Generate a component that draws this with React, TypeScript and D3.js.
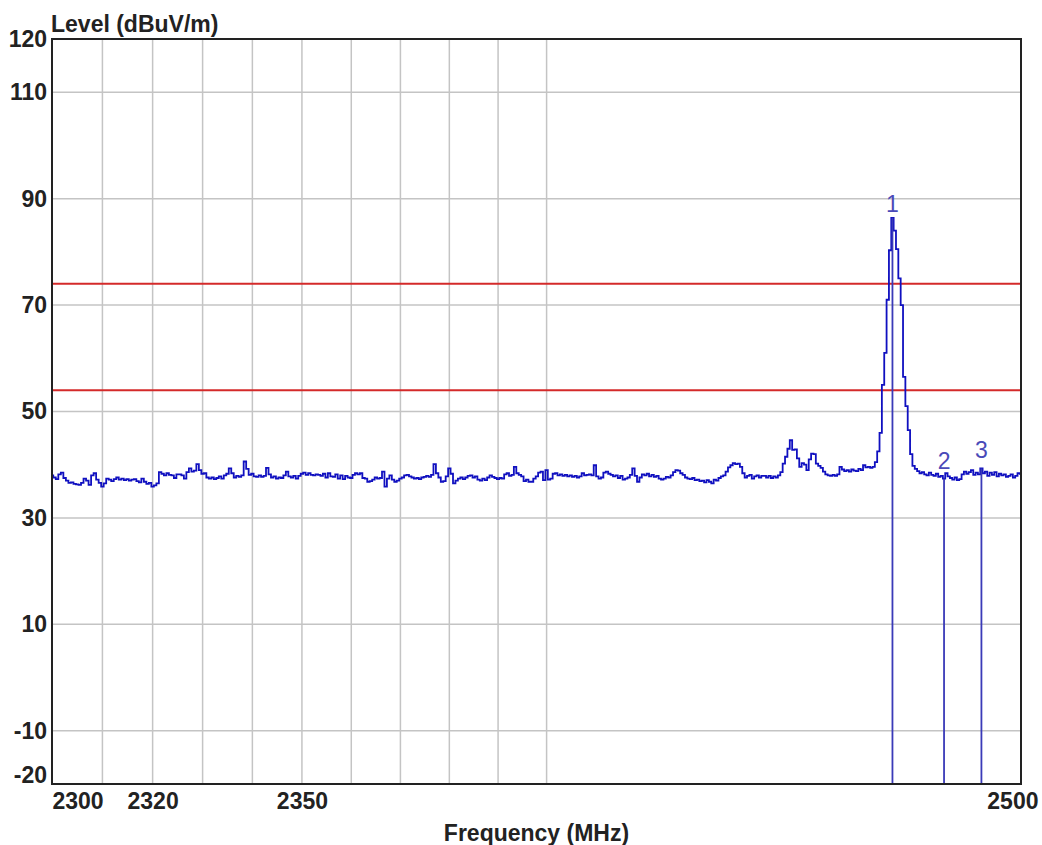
import React, { useEffect, useRef } from "react";
import * as d3 from "d3";

// Sweep: 2300 - 2500 MHz, 0.5 MHz steps (401 points)
const sweepStart = 2300;
const sweepStep = 0.5;

// Trace levels (dBuV/m), one row per 10 MHz
const traceLevels: number[] = [
  // 2300
  38.0, 37.6, 37.3, 38.2, 38.5, 37.5, 37.0, 36.6, 36.7, 36.4, 36.3, 36.2, 36.6, 37.4, 37.0, 36.2, 38.0, 38.4, 37.2, 36.6,
  // 2310
  35.9, 36.5, 37.4, 37.2, 36.9, 37.3, 37.6, 37.2, 37.4, 37.1, 37.3, 37.0, 37.2, 37.3, 36.9, 36.7, 37.4, 36.8, 36.4, 36.6,
  // 2320
  35.9, 36.1, 36.5, 38.6, 38.3, 38.0, 38.4, 38.1, 38.0, 37.5, 38.2, 38.2, 38.0, 37.4, 38.6, 39.3, 38.7, 38.9, 40.1, 39.0,
  // 2330
  38.3, 38.4, 37.6, 37.4, 37.6, 37.3, 37.5, 37.8, 37.4, 38.0, 38.3, 39.3, 38.4, 37.6, 37.9, 37.7, 38.0, 40.6, 39.2, 38.1,
  // 2340
  38.3, 37.8, 37.7, 38.0, 37.7, 37.9, 39.4, 38.2, 37.6, 37.8, 37.4, 37.6, 37.5, 38.0, 38.7, 37.8, 37.6, 37.9, 37.4, 37.9,
  // 2350
  38.3, 38.5, 38.1, 38.4, 38.1, 38.0, 38.2, 38.1, 37.9, 38.3, 37.6, 38.4, 37.8, 37.7, 38.2, 37.4, 38.0, 37.3, 37.9, 37.6,
  // 2360
  37.5, 38.1, 38.4, 38.2, 38.4, 37.5, 37.4, 36.8, 36.9, 37.2, 37.6, 37.4, 37.5, 38.7, 35.9, 37.4, 38.0, 37.2, 36.8, 37.0,
  // 2370
  37.4, 37.6, 38.0, 38.1, 37.8, 37.6, 37.4, 37.5, 37.3, 37.6, 37.7, 37.9, 37.7, 38.1, 40.1, 38.4, 37.6, 36.8, 36.9, 37.8,
  // 2380
  39.3, 38.3, 36.5, 37.0, 37.4, 37.6, 37.3, 37.6, 37.9, 38.0, 37.6, 37.8, 37.2, 37.0, 37.4, 37.1, 37.6, 38.0, 37.7, 37.5,
  // 2390
  37.3, 37.5, 37.4, 38.2, 38.4, 37.9, 38.1, 39.6, 38.4, 38.1, 37.8, 36.9, 37.2, 36.8, 36.8, 37.4, 37.8, 38.5, 38.7, 37.1,
  // 2400
  39.0, 37.2, 37.4, 38.3, 38.4, 38.0, 38.2, 37.9, 38.1, 37.8, 38.0, 37.7, 37.9, 37.6, 37.8, 38.4, 38.0, 38.1, 38.2, 38.0,
  // 2410
  39.9, 37.8, 37.4, 37.6, 38.5, 38.7, 38.3, 38.1, 37.8, 38.0, 37.5, 37.9, 37.2, 37.4, 37.6, 38.1, 39.3, 37.9, 36.8, 37.6,
  // 2420
  38.2, 38.0, 38.3, 37.8, 38.1, 37.7, 37.9, 37.4, 37.2, 37.4, 37.7, 37.6, 38.0, 38.6, 39.0, 38.9, 38.4, 38.1, 37.6, 37.4,
  // 2430
  37.3, 37.5, 37.1, 37.2, 36.9, 37.0, 36.7, 37.1, 36.8, 36.5, 37.2, 37.0, 37.5, 37.8, 38.0, 38.7, 39.5, 39.9, 40.3, 40.1,
  // 2440
  40.2, 39.6, 38.4, 37.6, 37.9, 38.1, 37.4, 37.8, 38.0, 37.6, 37.9, 37.9, 37.6, 37.9, 37.5, 37.8, 37.6, 38.0, 38.6, 40.2,
  // 2450
  41.5, 43.0, 44.6, 42.8, 42.9, 41.2, 39.6, 40.3, 40.0, 39.0, 41.0, 42.1, 42.0, 40.2, 39.8, 39.4, 38.7, 38.2, 38.0, 37.9,
  // 2460
  38.1, 37.9, 38.2, 39.6, 39.1, 38.8, 39.0, 38.7, 39.1, 38.9, 38.8, 39.2, 39.0, 39.9, 39.5, 39.6, 39.4, 39.6, 40.5, 42.5,
  // 2470
  46.0, 55.0, 61.0, 71.0, 80.3, 86.4, 84.0, 80.5, 75.0, 70.0, 56.5, 51.0, 46.5, 42.0, 39.8, 39.2, 38.8, 38.4, 38.6, 38.2,
  // 2480
  38.0, 38.5, 38.1, 37.9, 38.3, 37.7, 37.9, 37.4, 38.4, 37.8, 37.5, 37.2, 37.6, 37.1, 37.3, 38.2, 38.7, 38.3, 38.6, 39.0,
  // 2490
  38.1, 38.5, 38.2, 39.3, 38.4, 38.7, 37.9, 38.5, 38.1, 38.6, 37.8, 38.3, 38.0, 38.2, 37.7, 37.9, 38.2, 37.6, 37.9, 38.4,
  // 2500
  38.3,
];

// Limit lines (dBuV/m)
const limitLevels = [74, 54];

// Markers
const markerNames = ["1", "2", "3"];
const markerFreqs = [2472.5, 2483.5, 2491.5];
const markerLevels = [86.4, 37.4, 39.3];

// Axes
const xGridFreqs = [2310, 2320, 2330, 2340, 2350, 2360, 2370, 2380, 2390, 2400];
const xTickLabels = [2300, 2320, 2350, 2500];
const yGridLevels = [110, 90, 70, 50, 30, 10, -10];
const yTickLabels = [120, 110, 90, 70, 50, 30, 10, -10, -20];

const App: React.FC = () => {
  const svgRef = useRef<SVGSVGElement | null>(null);

  useEffect(() => {
    if (!svgRef.current) return;

    const width = 1042;
    const height = 845;
    const marginLeft = 52;
    const marginRight = 21;
    const marginTop = 39;
    const marginBottom = 61;
    const font = "'Liberation Sans', Arial, sans-serif";

    const x = d3
      .scaleLog()
      .domain([2300, 2500])
      .range([marginLeft, width - marginRight]);

    const y = d3
      .scaleLinear()
      .domain([-20, 120])
      .range([height - marginBottom, marginTop]);

    const svg = d3
      .select(svgRef.current)
      .attr("viewBox", [0, 0, width, height])
      .attr("width", width)
      .attr("height", height);

    svg.append("rect").attr("width", width).attr("height", height).attr("fill", "#fff");

    // grid
    svg
      .append("g")
      .selectAll("line")
      .data(xGridFreqs)
      .join("line")
      .attr("x1", (d) => x(d))
      .attr("x2", (d) => x(d))
      .attr("y1", y(120))
      .attr("y2", y(-20))
      .attr("stroke", "#c4c4c4")
      .attr("stroke-width", 1.5);

    svg
      .append("g")
      .selectAll("line")
      .data(yGridLevels)
      .join("line")
      .attr("x1", x(2300))
      .attr("x2", x(2500))
      .attr("y1", (d) => y(d))
      .attr("y2", (d) => y(d))
      .attr("stroke", "#c4c4c4")
      .attr("stroke-width", 1.5);

    // limit lines
    svg
      .append("g")
      .selectAll("line")
      .data(limitLevels)
      .join("line")
      .attr("x1", x(2300))
      .attr("x2", x(2500))
      .attr("y1", (d) => y(d))
      .attr("y2", (d) => y(d))
      .attr("stroke", "#d42a2a")
      .attr("stroke-width", 2);

    // trace
    const clipId = "plot-clip";
    svg
      .append("clipPath")
      .attr("id", clipId)
      .append("rect")
      .attr("x", marginLeft)
      .attr("y", marginTop)
      .attr("width", width - marginLeft - marginRight)
      .attr("height", height - marginTop - marginBottom);

    // stepped like the analyzer display
    const line = d3
      .line<number>()
      .curve(d3.curveStep)
      .x((_, i) => x(sweepStart + i * sweepStep))
      .y((d) => y(d));

    svg
      .append("path")
      .datum(traceLevels)
      .attr("clip-path", `url(#${clipId})`)
      .attr("fill", "none")
      .attr("stroke", "#1010c0")
      .attr("stroke-width", 1.8)
      .attr("d", line);

    // markers
    const markers = svg.append("g");
    markerFreqs.forEach((f, i) => {
      markers
        .append("line")
        .attr("x1", x(f))
        .attr("x2", x(f))
        .attr("y1", y(markerLevels[i]))
        .attr("y2", y(-20))
        .attr("stroke", "#3a3ab8")
        .attr("stroke-width", 1.8);
      markers
        .append("text")
        .attr("x", x(f))
        .attr("y", y(markerLevels[i]) - (i === 0 ? 6 : 10))
        .attr("text-anchor", "middle")
        .attr("font-family", font)
        .attr("font-size", 23)
        .attr("fill", "#4a4ab8")
        .text(markerNames[i]);
    });

    // y axis labels
    svg
      .append("g")
      .attr("transform", `translate(${marginLeft},0)`)
      .call(
        d3
          .axisLeft(y)
          .tickValues(yTickLabels)
          .tickFormat((d) => String(d))
          .tickSize(0)
          .tickPadding(5)
      )
      .call((g) => g.select(".domain").remove())
      .call((g) =>
        g
          .selectAll("text")
          .attr("font-family", font)
          .attr("font-size", 23)
          .attr("font-weight", "bold")
          .attr("fill", "#222")
      )
      .call((g) => g.select(".tick:last-of-type text").attr("dy", "-0.05em"));

    // x axis labels
    svg
      .append("g")
      .attr("transform", `translate(0,${height - marginBottom})`)
      .call(
        d3
          .axisBottom(x)
          .tickValues(xTickLabels)
          .tickFormat((d) => String(d))
          .tickSize(0)
          .tickPadding(9)
      )
      .call((g) => g.select(".domain").remove())
      .call((g) =>
        g
          .selectAll("text")
          .attr("font-family", font)
          .attr("font-size", 23)
          .attr("font-weight", "bold")
          .attr("fill", "#222")
      )
      .call((g) => g.select(".tick:first-of-type text").attr("text-anchor", "start"))
      .call((g) =>
        g.select(".tick:last-of-type text").attr("text-anchor", "end").attr("x", 17)
      );

    // titles
    svg
      .append("text")
      .attr("x", marginLeft - 1)
      .attr("y", 32)
      .attr("font-family", font)
      .attr("font-size", 23)
      .attr("font-weight", "bold")
      .attr("fill", "#222")
      .text("Level (dBuV/m)");

    svg
      .append("text")
      .attr("x", (marginLeft + width - marginRight) / 2)
      .attr("y", 841)
      .attr("text-anchor", "middle")
      .attr("font-family", font)
      .attr("font-size", 23)
      .attr("font-weight", "bold")
      .attr("fill", "#222")
      .text("Frequency (MHz)");

    // frame
    svg
      .append("rect")
      .attr("x", marginLeft)
      .attr("y", marginTop)
      .attr("width", width - marginLeft - marginRight)
      .attr("height", height - marginTop - marginBottom)
      .attr("fill", "none")
      .attr("stroke", "#222")
      .attr("stroke-width", 2);

    return () => {
      svg.selectAll("*").remove();
    };
  }, []);

  return (
    <div style={{ position: "absolute", left: 0, top: 0 }}>
      <svg ref={svgRef} style={{ display: "block" }}></svg>
    </div>
  );
};

export default App;
